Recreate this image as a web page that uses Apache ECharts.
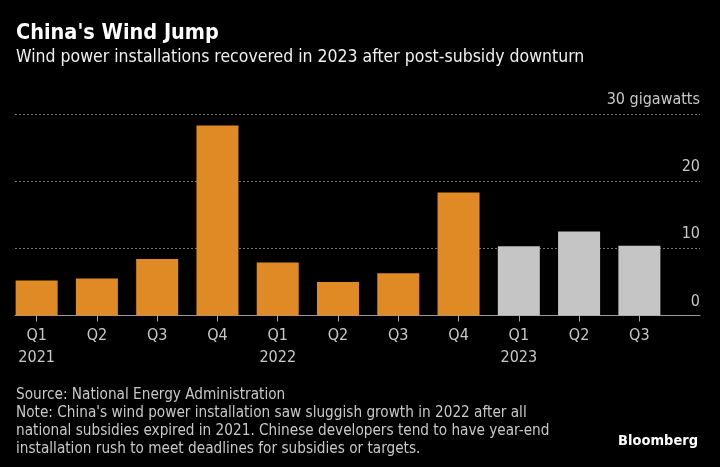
<!DOCTYPE html>
<html>
<head>
<meta charset="utf-8">
<script src="https://cdn.jsdelivr.net/npm/echarts@6/dist/echarts.min.js"></script>
<style>
html,body{margin:0;padding:0;background:#000;}
#c{width:720px;height:467px;}
</style>
</head>
<body>
<div id="c"></div>
<script>
var quarters = ['Q1','Q2','Q3','Q4','Q1','Q2','Q3','Q4','Q1','Q2','Q3'];
var years    = ['2021','','','','2022','','','','2023','',''];
var values   = [5.2, 5.5, 8.4, 28.3, 7.9, 5.0, 6.3, 18.3, 10.3, 12.5, 10.4];
var isProvisional = [false,false,false,false,false,false,false,false,true,true,true];
var yTicks = [0, 10, 20, 30];
var yUnit = 'gigawatts';

var ORANGE = '#df8a24';
var GREY = '#c5c5c5';
var FONT = '"DejaVu Sans Condensed", "DejaVu Sans", sans-serif';

var cats = quarters.map(function(q, i){ return years[i] ? q + '\n' + years[i] : q; });

var chart = echarts.init(document.getElementById('c'), null, {renderer:'canvas'});
var option = {
  backgroundColor: '#000',
  animation: false,
  textStyle: {fontFamily: FONT},
  grid: [
    {left: 6.5, width: 663, top: 114, bottom: 151.5, containLabel: false},
    {left: 15, right: 20, top: 114, bottom: 151.5, containLabel: false}
  ],
  xAxis: [
    {
      gridIndex: 0, type: 'category', data: cats,
      axisLine: {show: false},
      axisTick: {show: true, alignWithLabel: true, length: 6, lineStyle: {color: '#aaa'}},
      axisLabel: {color: '#c8c8c8', fontSize: 16, fontFamily: FONT, lineHeight: 22, margin: 9}
    },
    {
      gridIndex: 1, type: 'value', min: 0, max: 1,
      axisLine: {show: true, onZero: false, lineStyle: {color: '#999', width: 1}},
      axisTick: {show: false}, axisLabel: {show: false}, splitLine: {show: false}
    }
  ],
  yAxis: [
    {gridIndex: 0, type: 'value', min: 0, max: 30, show: false},
    {
      gridIndex: 1, type: 'value', min: yTicks[0], max: yTicks[yTicks.length - 1], interval: 10, position: 'right',
      axisLine: {show: false}, axisTick: {show: false},
      splitLine: {show: true, lineStyle: {color: '#777', type: [2, 2], width: 1}},
      axisLabel: {
        inside: true, color: '#c8c8c8', fontSize: 16, fontFamily: FONT,
        verticalAlign: 'bottom', margin: 0, padding: [0, 0, 6, 0],
        formatter: function(v){ return v === 30 ? '30 ' + yUnit : String(v); }
      }
    }
  ],
  series: [{
    type: 'bar', xAxisIndex: 0, yAxisIndex: 0, barWidth: 42,
    data: values.map(function(v, i){
      return {value: v, itemStyle: {color: isProvisional[i] ? GREY : ORANGE}};
    })
  }],
  graphic: [
    {type: 'text', left: 16, top: 22, style: {text: "China's Wind Jump", fill: '#fff', font: 'bold 21.5px ' + FONT}},
    {type: 'text', left: 16, top: 48, style: {text: 'Wind power installations recovered in 2023 after post-subsidy downturn', fill: '#f0f0f0', font: '17.5px ' + FONT}},
    {type: 'text', left: 16, top: 386, style: {
      text: "Source: National Energy Administration\nNote: China's wind power installation saw sluggish growth in 2022 after all\nnational subsidies expired in 2021. Chinese developers tend to have year-end\ninstallation rush to meet deadlines for subsidies or targets.",
      fill: '#c8c8c8', font: '15.2px ' + FONT, lineHeight: 18}},
    {type: 'text', right: 22, top: 434, style: {text: 'Bloomberg', fill: '#fff', font: 'bold 14.5px ' + FONT}}
  ]
};
chart.setOption(option);
</script>
</body>
</html>
